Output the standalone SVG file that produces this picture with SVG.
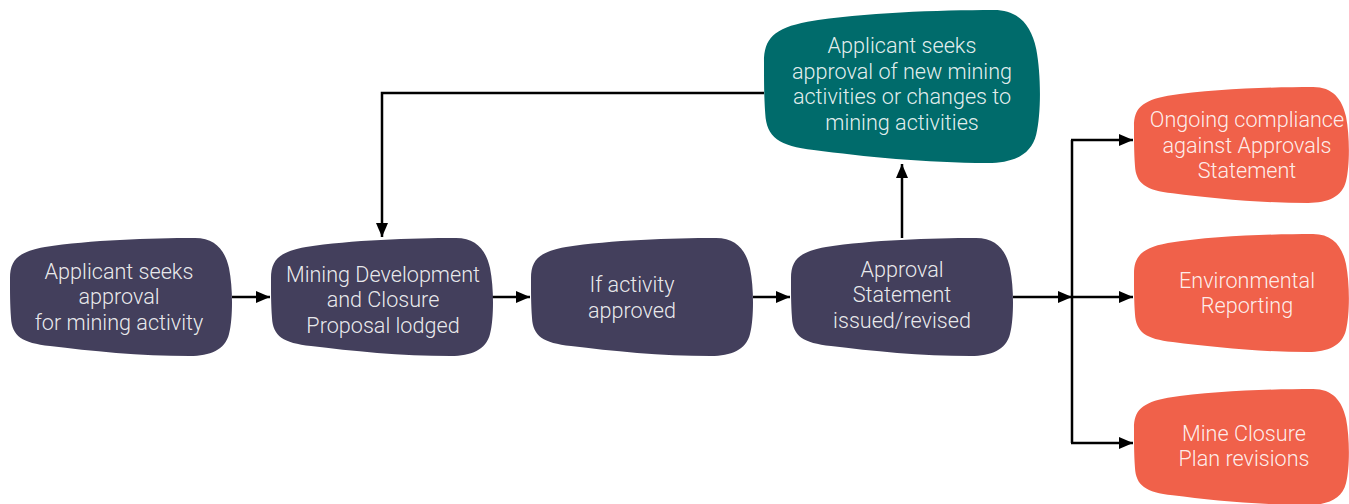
<svg xmlns="http://www.w3.org/2000/svg" xmlns:xlink="http://www.w3.org/1999/xlink" width="1349" height="504" viewBox="0 0 1349 504">
<style>
.dark{fill:#433F5C}
.teal{fill:#006B6B}
.orange{fill:#F0614A}
text{font-family:Roboto,"Liberation Sans",sans-serif;font-weight:300;font-size:21.6px;text-anchor:middle;fill:#ffffff;fill-opacity:0.9}
.conn{fill:none;stroke:#000;stroke-width:2.5}
</style>
<defs>
<path id="blob" d="M 0 40 C 0 22, 8 14, 35 9 C 80 2, 140 0, 185 0 C 205 0, 215 12, 219 30 C 223 50, 223 80, 219 96 C 215 112, 200 118, 180 118 C 130 118, 80 113, 40 108 C 12 105, 2 98, 1 80 C 0 65, 0 55, 0 40 Z"/>
<marker id="arr" markerUnits="userSpaceOnUse" markerWidth="14" markerHeight="12" refX="14" refY="6" orient="auto">
<path d="M0,0 L14,6 L0,12 z" fill="#000"/>
</marker>
</defs>
<g id="connectors">
<line class="conn" x1="232" y1="297" x2="270" y2="297" marker-end="url(#arr)"/>
<line class="conn" x1="492" y1="297" x2="530" y2="297" marker-end="url(#arr)"/>
<line class="conn" x1="753" y1="297" x2="790" y2="297" marker-end="url(#arr)"/>
<line class="conn" x1="1013" y1="297" x2="1072" y2="297" marker-end="url(#arr)"/>
<line class="conn" x1="1072" y1="297" x2="1133" y2="297" marker-end="url(#arr)"/>
<polyline class="conn" points="1072,140 1072,443"/>
<line class="conn" x1="1071" y1="140" x2="1133" y2="140" marker-end="url(#arr)"/>
<line class="conn" x1="1071" y1="443" x2="1133" y2="443" marker-end="url(#arr)"/>
<line class="conn" x1="902" y1="238" x2="902" y2="164" marker-end="url(#arr)"/>
<polyline class="conn" points="764,93 382,93 382,237" marker-end="url(#arr)"/>
</g>
<g id="n1">
<use xlink:href="#blob" class="dark" transform="translate(10,238)"/>
<text x="119" y="279">Applicant seeks</text>
<text x="119" y="304">approval</text>
<text x="119" y="330">for mining activity</text>
</g>
<g id="n2">
<use xlink:href="#blob" class="dark" transform="translate(271,238)"/>
<text x="383" y="282">Mining Development</text>
<text x="383" y="307">and Closure</text>
<text x="383" y="333">Proposal lodged</text>
</g>
<g id="n3">
<use xlink:href="#blob" class="dark" transform="translate(531,238)"/>
<text x="632" y="292">If activity</text>
<text x="632" y="318">approved</text>
</g>
<g id="n4">
<use xlink:href="#blob" class="dark" transform="translate(791,238)"/>
<text x="902" y="277">Approval</text>
<text x="902" y="302">Statement</text>
<text x="902" y="328">issued/revised</text>
</g>
<g id="n5">
<use xlink:href="#blob" class="teal" transform="translate(764,10) scale(1.243,1.297)"/>
<text x="902" y="53">Applicant seeks</text>
<text x="902" y="79">approval of new mining</text>
<text x="902" y="104">activities or changes to</text>
<text x="902" y="130">mining activities</text>
</g>
<g id="n6">
<use xlink:href="#blob" class="orange" transform="translate(1134,87) scale(0.968,0.983)"/>
<text x="1247" y="127">Ongoing compliance</text>
<text x="1247" y="153">against Approvals</text>
<text x="1247" y="178">Statement</text>
</g>
<g id="n7">
<use xlink:href="#blob" class="orange" transform="translate(1134,234) scale(0.968,1.0)"/>
<text x="1247" y="288">Environmental</text>
<text x="1247" y="313">Reporting</text>
</g>
<g id="n8">
<use xlink:href="#blob" class="orange" transform="translate(1134,389) scale(0.968,0.983)"/>
<text x="1244" y="441">Mine Closure</text>
<text x="1244" y="466">Plan revisions</text>
</g>
</svg>
